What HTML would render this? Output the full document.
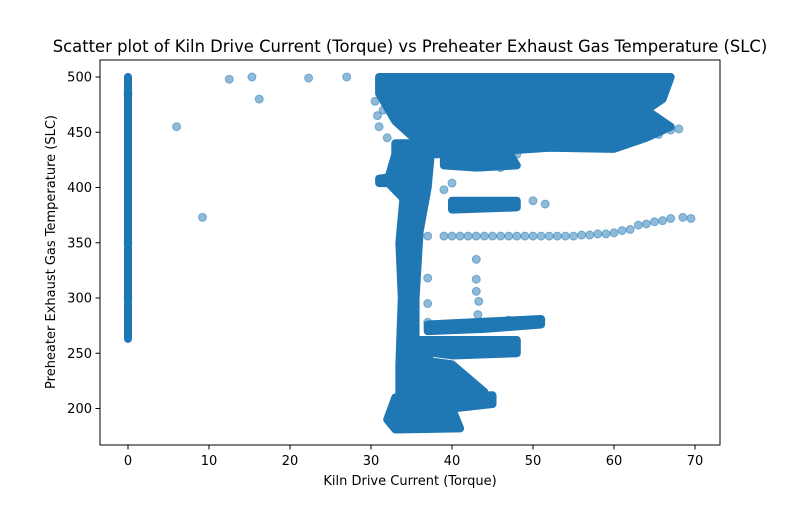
<!DOCTYPE html>
<html><head><meta charset="utf-8"><style>
body{margin:0;background:#fff;font-family:"Liberation Sans","DejaVu Sans",sans-serif;}
svg text{font-family:"DejaVu Sans","Liberation Sans",sans-serif;fill:#000;}
</style></head><body>
<svg id="chart" width="800" height="500" viewBox="0 0 800 500" xmlns="http://www.w3.org/2000/svg">
<rect width="800" height="500" fill="#fff"/>
<text x="410" y="52" font-size="16.4" text-anchor="middle">Scatter plot of Kiln Drive Current (Torque) vs Preheater Exhaust Gas Temperature (SLC)</text>
<g id="plot"></g>
<g id="axes"></g>
<text x="410" y="485" font-size="13" text-anchor="middle">Kiln Drive Current (Torque)</text>
<text transform="translate(55,252) rotate(-90)" font-size="13" text-anchor="middle">Preheater Exhaust Gas Temperature (SLC)</text>
</svg>
<script>
const xTicks=[0,10,20,30,40,50,60,70];
const yTicks=[200,250,300,350,400,450,500];
// dense regions (too many overlapping points to list individually), data coords
const denseTop=[[31,500],[67,500],[66,480],[64,470],[67,455],[64,445],[60,435],[52,436],[46,433],[42,432],[38,430],[36,440],[33,460],[31,485]];
const denseColumn=[[33,440],[37.5,440],[37,400],[36,360],[35.5,300],[35.5,260],[37,250],[38,225],[36,215],[33.5,212],[33.5,240],[33.8,300],[33.5,350],[34,390],[32,405],[33,430]];
const denseBottom=[[33,210],[45,212],[45,204],[40,200],[41,182],[33,181],[32,190]];
const denseBand275=[[37,276],[51,281],[51,276],[44,272],[37,270]];
const denseBand255=[[36,262],[48,262],[48,250],[40,248],[36,252]];
const denseMid=[[35,245],[40,240],[44,215],[38,208],[35,220]];
const denseBand385=[[40,388],[48,388],[48,382],[40,380]];
const dense420=[[39,432],[47,432],[48,420],[43,418],[39,420]];
const denseLoop=[[31,408],[35,412],[36,404],[31,404]];
const denseStrip=[[0,263],[0,500]];
const denseRegions=[denseTop,denseColumn,denseBottom,denseBand275,denseBand255,denseMid,denseBand385,dense420,denseLoop,denseStrip];
// sparse points
const ptX=[12.5,15.3,16.2,22.3,27,6,9.2,37,39,40,41,42,43,44,45,46,47,48,49,50,51,52,53,54,55,56,57,58,59,60,61,62,63,64,65,66,67,68.5,69.5,40,39,43,43,43,43.3,43.2,37,37,37,42,50,51.5,47,45,30.5,30.8,0,0,0,31,32,33,31.5,66,67,68,65.5,41,44,47,48,46];
const ptY=[498,500,480,499,500,455,373,356,356,356,356,356,356,356,356,356,356,356,356,356,356,356,356,356,356,357,357,358,358,359,361,362,366,367,369,370,372,373,372,404,398,335,317,306,297,285,295,318,278,382,388,385,280,277,478,465,485,300,350,455,445,425,470,453,452,453,448,428,426,424,430,418];
const X=v=>128+(v)*8.1, Y=v=>77+(500-v)*1.105;
const NS="http://www.w3.org/2000/svg";
const plot=document.getElementById('plot'), axes=document.getElementById('axes');
const C="#1f77b4";
denseRegions.forEach(poly=>{
  const p=document.createElementNS(NS,'polygon');
  p.setAttribute('points',poly.map(q=>X(q[0])+','+Y(q[1])).join(' '));
  p.setAttribute('fill',C);p.setAttribute('stroke',C);p.setAttribute('stroke-width','8');p.setAttribute('stroke-linejoin','round');
  
  
  plot.appendChild(p);
});
ptX.forEach((x,i)=>{
  const c=document.createElementNS(NS,'circle');
  c.setAttribute('cx',X(x));c.setAttribute('cy',Y(ptY[i]));c.setAttribute('r','4');
  c.setAttribute('fill',C);c.setAttribute('fill-opacity','0.5');c.setAttribute('stroke',C);c.setAttribute('stroke-opacity','0.5');
  
  
  plot.appendChild(c);
});
const fr=document.createElementNS(NS,'rect');
fr.setAttribute('x',100);fr.setAttribute('y',60);fr.setAttribute('width',620);fr.setAttribute('height',385);
fr.setAttribute('fill','none');fr.setAttribute('stroke','#000');fr.setAttribute('stroke-width','1');


axes.appendChild(fr);
xTicks.forEach(t=>{
  const l=document.createElementNS(NS,'line');
  l.setAttribute('x1',X(t));l.setAttribute('x2',X(t));l.setAttribute('y1',445);l.setAttribute('y2',449.5);l.setAttribute('stroke','#000');
  
  
  axes.appendChild(l);
  const tx=document.createElementNS(NS,'text');
  tx.setAttribute('x',X(t));tx.setAttribute('y',465);tx.setAttribute('font-size','13');tx.setAttribute('text-anchor','middle');
  tx.textContent=t;
  
  
  axes.appendChild(tx);
});
yTicks.forEach(t=>{
  const l=document.createElementNS(NS,'line');
  l.setAttribute('x1',95.5);l.setAttribute('x2',100);l.setAttribute('y1',Y(t));l.setAttribute('y2',Y(t));l.setAttribute('stroke','#000');
  
  
  axes.appendChild(l);
  const tx=document.createElementNS(NS,'text');
  tx.setAttribute('x',92);tx.setAttribute('y',Y(t)+4.5);tx.setAttribute('font-size','13');tx.setAttribute('text-anchor','end');
  tx.textContent=t;
  
  
  axes.appendChild(tx);
});
</script>
</body></html>
